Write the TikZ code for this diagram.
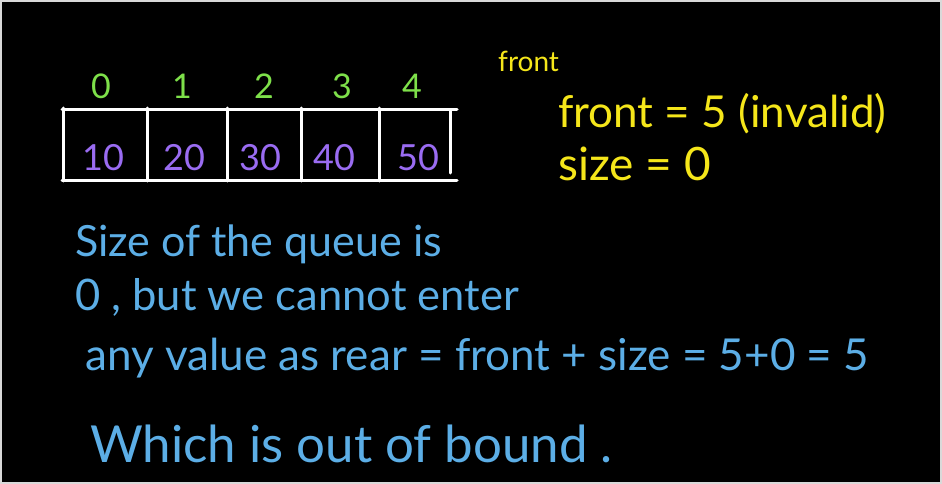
\documentclass[tikz,border=0pt]{standalone}
\usepackage{fontspec}
\setmainfont{Lato}
\definecolor{idxgreen}{HTML}{7EE04A}
\definecolor{valpurple}{HTML}{9A6CF2}
\definecolor{noteyellow}{HTML}{F5E61A}
\definecolor{textblue}{HTML}{5CAEE6}
\tikzset{
  cellline/.style={draw=white, line width=3pt, line cap=round},
  idx/.style={text=idxgreen, font=\fontsize{34}{36}\selectfont, anchor=base, inner sep=0pt},
  val/.style={text=valpurple, font=\fontsize{36}{38}\selectfont, anchor=base, inner sep=0pt},
  note/.style={text=noteyellow, anchor=base west, inner sep=0pt},
  expl/.style={text=textblue, anchor=base west, inner sep=0pt}
}
\begin{document}
\begin{tikzpicture}[x=1pt,y=-1pt]
\useasboundingbox (0,0) rectangle (942,484);
\fill[white!85!black] (0,0) rectangle (942,484);
\fill[black] (2,2) rectangle (940,482);
% array
\coordinate (tl) at (62,110);
\coordinate (tr) at (457,110);
\coordinate (bl) at (62,180);
\coordinate (br) at (457,180);
\draw[cellline] (tl) -- (tr);
\draw[cellline] (bl) -- (br);
\foreach \x in {63,147,227,301,379} {
  \draw[cellline] (\x,108) -- (\x,181);
}
\draw[cellline] (450,110) -- (450,173);
% indices
\node[idx] (i0) at (101,99) {0};
\node[idx] (i1) at (182,99) {1};
\node[idx] (i2) at (264,99) {2};
\node[idx] (i3) at (342,99) {3};
\node[idx] (i4) at (412,99) {4};
% values
\node[val] (v0) at (103,171) {10};
\node[val] (v1) at (184,171) {20};
\node[val] (v2) at (260,171) {30};
\node[val] (v3) at (334,171) {40};
\node[val] (v4) at (418,171) {50};
% notes
\node[note, font=\fontsize{28}{30}\selectfont] (n0) at (498,72) {front};
\node[note, font=\fontsize{44}{46}\selectfont] (n1) at (558,128) {front = 5 (invalid)};
\node[note, font=\fontsize{46}{48}\selectfont] (n2) at (558,180) {size = 0};
% explanation
\node[expl, font=\fontsize{43}{46}\selectfont] (e1) at (75,256) {Size of the queue is};
\node[expl, font=\fontsize{43.5}{46}\selectfont] (e2) at (75,310) {0 , but we cannot enter};
\node[expl, font=\fontsize{44}{46}\selectfont] (e3) at (85,370) {any value as rear = front + size = 5+0 = 5};
\node[expl, font=\fontsize{51}{54}\selectfont] (e4) at (90,462) {Which is out of bound .};
\end{tikzpicture}
\end{document}
